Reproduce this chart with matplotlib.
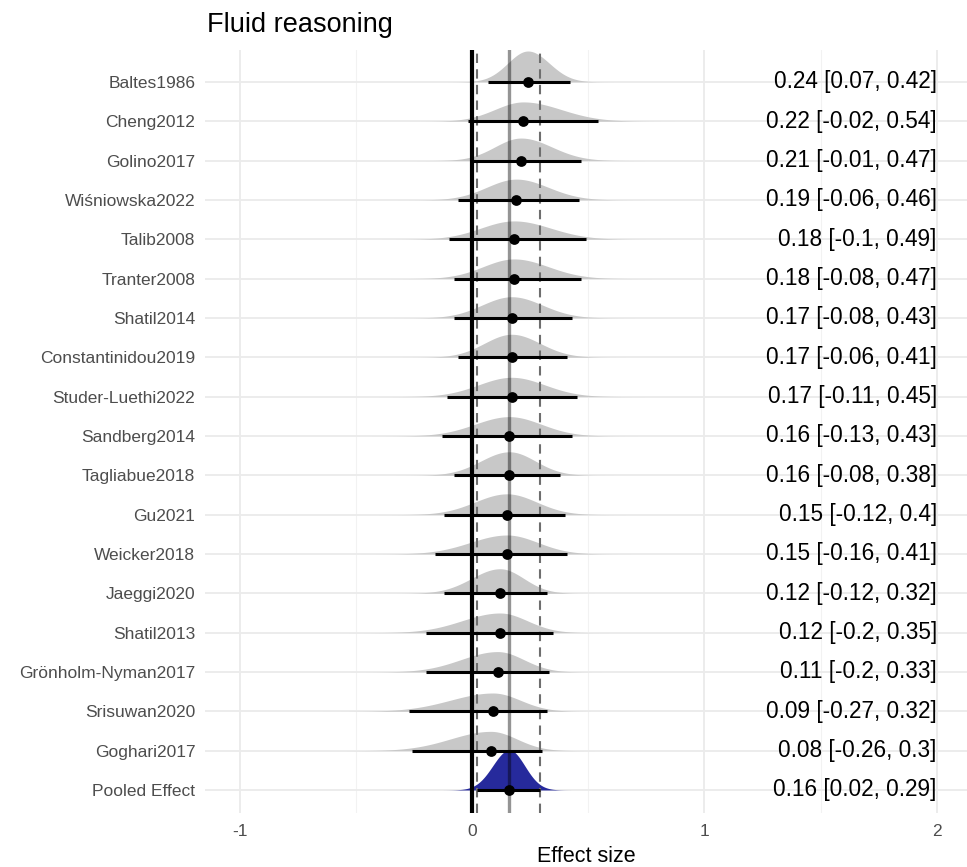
import numpy as np
import matplotlib.pyplot as plt
from matplotlib.ticker import MultipleLocator

plt.rcParams['font.family'] = ['Liberation Sans', 'DejaVu Sans']

# study estimates with 95% intervals (top to bottom as drawn)
studies = ["Baltes1986", "Cheng2012", "Golino2017", "Wiśniowska2022", "Talib2008",
           "Tranter2008", "Shatil2014", "Constantinidou2019", "Studer-Luethi2022",
           "Sandberg2014", "Tagliabue2018", "Gu2021", "Weicker2018", "Jaeggi2020",
           "Shatil2013", "Grönholm-Nyman2017", "Srisuwan2020", "Goghari2017",
           "Pooled Effect"]
estimate = [0.24, 0.22, 0.21, 0.19, 0.18, 0.18, 0.17, 0.17, 0.17, 0.16,
            0.16, 0.15, 0.15, 0.12, 0.12, 0.11, 0.09, 0.08, 0.16]
lower = [0.07, -0.02, -0.01, -0.06, -0.1, -0.08, -0.08, -0.06, -0.11, -0.13,
         -0.08, -0.12, -0.16, -0.12, -0.2, -0.2, -0.27, -0.26, 0.02]
upper = [0.42, 0.54, 0.47, 0.46, 0.49, 0.47, 0.43, 0.41, 0.45, 0.43,
         0.38, 0.4, 0.41, 0.32, 0.35, 0.33, 0.32, 0.3, 0.29]

pooled_est, pooled_lo, pooled_hi = 0.16, 0.02, 0.29

n = len(studies)
ypos = np.arange(n, 0, -1)  # Baltes at top, pooled at 1
scale = 0.1755  # ridge height per unit of density


def split_normal(x, m, lo, hi):
    s1 = (m - lo) / 1.96
    s2 = (hi - m) / 1.96
    s = np.where(x < m, s1, s2)
    return 2.0 / (np.sqrt(2 * np.pi) * (s1 + s2)) * np.exp(-0.5 * ((x - m) / s) ** 2)


fig = plt.figure(figsize=(9.67, 8.67), dpi=100)
ax = fig.add_axes([205 / 967, 1 - 813 / 867, 762 / 967, 763 / 867])

for i in range(n):
    m, lo, hi, y = estimate[i], lower[i], upper[i], ypos[i]
    s1 = (m - lo) / 1.96
    s2 = (hi - m) / 1.96
    x = np.linspace(m - 4 * s1, m + 4 * s2, 400)
    d = split_normal(x, m, lo, hi) * scale
    pooled = studies[i] == "Pooled Effect"
    ax.fill_between(x, y, y + d, color='#262a9c' if pooled else '#c8c8c8',
                    lw=0, zorder=2)

# reference lines
ax.axvline(0, color='black', lw=3, zorder=3)
ax.axvline(pooled_est, color='black', alpha=0.42, lw=2.4, zorder=3)
for v in (pooled_lo, pooled_hi):
    ax.axvline(v, color='#6e6e6e', lw=1.5, ls=(0, (4.5, 3)), zorder=3)

# point estimates with intervals
ax.hlines(ypos, lower, upper, color='black', lw=2.2, zorder=4)
ax.scatter(estimate, ypos, s=60, color='black', zorder=5, lw=0)

# value labels at the right edge
for i in range(n):
    ax.text(2, ypos[i], f"{estimate[i]:g} [{lower[i]:g}, {upper[i]:g}]",
            ha='right', va='center', fontsize=16.3, color='black', zorder=6)

ax.set_xlim(-1.15, 2.13)
ax.set_ylim(0.415, 19.81)
ax.set_xticks([-1, 0, 1, 2])
ax.set_xticklabels(["-1", "0", "1", "2"])
ax.xaxis.set_minor_locator(MultipleLocator(0.5))
ax.set_yticks(ypos)
ax.set_yticklabels(studies)
ax.tick_params(axis='both', which='both', length=0, labelsize=12.5,
               labelcolor='#4d4d4d')
ax.tick_params(axis='y', pad=7)
ax.tick_params(axis='x', pad=8)
ax.grid(True, which='major', color='#ebebeb', lw=1.3, zorder=0)
ax.grid(True, which='minor', axis='x', color='#f2f2f2', lw=0.8, zorder=0)
ax.set_axisbelow(True)
for sp in ax.spines.values():
    sp.set_visible(False)

ax.set_xlabel("Effect size", fontsize=15.5, color='black', labelpad=5)
fig.text(207 / 967, 1 - 25 / 867, "Fluid reasoning", fontsize=19.5,
         ha='left', va='center', color='black')

fig.savefig("out.png", dpi=100)
